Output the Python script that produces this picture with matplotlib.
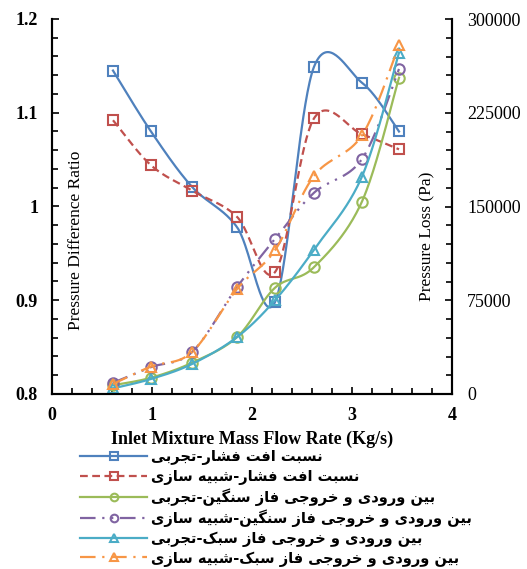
import numpy as np
import matplotlib
matplotlib.use("Agg")
import matplotlib.pyplot as plt
from matplotlib.ticker import MultipleLocator, FuncFormatter

# inlet mixture mass flow rate (kg/s)
flow = [0.61, 0.99, 1.40, 1.85, 2.23, 2.62, 3.10, 3.47]

# pressure difference ratio (left axis)
ratio_exp = [1.145, 1.080, 1.021, 0.978, 0.898, 1.149, 1.132, 1.080]
ratio_sim = [1.092, 1.044, 1.017, 0.989, 0.930, 1.094, 1.077, 1.061]

# pressure loss in Pa (right axis)
heavy_exp = [7000, 13000, 25000, 45500, 85000, 101500, 154000, 253000]
heavy_sim = [9000, 21500, 33500, 85500, 124000, 161000, 188000, 260000]
light_exp = [4500, 12000, 24000, 45500, 75000, 115500, 174000, 273000]
light_sim = [8000, 22000, 33500, 84000, 115000, 174500, 207000, 279000]

labels = [
    "نسبت افت فشار-تجربی",
    "نسبت افت فشار-شبیه سازی",
    "بین ورودی و خروجی فاز سنگین-تجربی",
    "بین ورودی و خروجی فاز سنگین-شبیه سازی",
    "بین ورودی و خروجی فاز سبک-تجربی",
    "بین ورودی و خروجی فاز سبک-شبیه سازی",
]

# contextual forms: isolated, final, initial, medial
FORMS = {
    "ا": ("\uFE8D", "\uFE8E", None, None),
    "د": ("\uFEA9", "\uFEAA", None, None),
    "ر": ("\uFEAD", "\uFEAE", None, None),
    "ز": ("\uFEAF", "\uFEB0", None, None),
    "و": ("\uFEED", "\uFEEE", None, None),
    "ب": ("\uFE8F", "\uFE90", "\uFE91", "\uFE92"),
    "ت": ("\uFE95", "\uFE96", "\uFE97", "\uFE98"),
    "ج": ("\uFE9D", "\uFE9E", "\uFE9F", "\uFEA0"),
    "خ": ("\uFEA5", "\uFEA6", "\uFEA7", "\uFEA8"),
    "س": ("\uFEB1", "\uFEB2", "\uFEB3", "\uFEB4"),
    "ش": ("\uFEB5", "\uFEB6", "\uFEB7", "\uFEB8"),
    "ف": ("\uFED1", "\uFED2", "\uFED3", "\uFED4"),
    "ن": ("\uFEE5", "\uFEE6", "\uFEE7", "\uFEE8"),
    "ه": ("\uFEE9", "\uFEEA", "\uFEEB", "\uFEEC"),
    "ی": ("\uFBFC", "\uFBFD", "\uFBFE", "\uFBFF"),
    "ک": ("\uFB8E", "\uFB8F", "\uFB90", "\uFB91"),
    "گ": ("\uFB92", "\uFB93", "\uFB94", "\uFB95"),
}


def shape_rtl(text):
    # pick joined letter forms, then reverse into visual order
    out = []
    for i, ch in enumerate(text):
        if ch not in FORMS:
            out.append(ch)
            continue
        prev = text[i - 1] if i > 0 else ""
        nxt = text[i + 1] if i + 1 < len(text) else ""
        iso, fin, ini, med = FORMS[ch]
        join_prev = prev in FORMS and FORMS[prev][2] is not None
        join_next = nxt in FORMS and ini is not None
        if join_prev and join_next:
            out.append(med)
        elif join_prev:
            out.append(fin)
        elif join_next:
            out.append(ini)
        else:
            out.append(iso)
    return "".join(reversed(out))


def smooth(x, y, n=40):
    # bezier smoothing through every point, like a spreadsheet "smoothed line"
    p = np.column_stack([x, y]).astype(float)
    ext = np.vstack([p[0], p, p[-1]])
    t = np.linspace(0, 1, n)[:, None]
    segs = []
    for i in range(len(p) - 1):
        p0, p3 = p[i], p[i + 1]
        p1 = p0 + (ext[i + 2] - ext[i]) / 6
        p2 = p3 - (ext[i + 3] - ext[i + 1]) / 6
        segs.append((1 - t) ** 3 * p0 + 3 * (1 - t) ** 2 * t * p1
                    + 3 * (1 - t) * t ** 2 * p2 + t ** 3 * p3)
    c = np.vstack(segs)
    return c[:, 0], c[:, 1]


serif = "Liberation Serif"
fig = plt.figure(figsize=(5.27, 5.69), dpi=100)
ax = fig.add_axes([52 / 527, 1 - 394 / 569, 400 / 527, 375 / 569])
ax2 = ax.twinx()

colors = ["#4F81BD", "#C0504D", "#9BBB59", "#8064A2", "#4BACC6", "#F79646"]
styles = ["-", (0, (3.5, 2)), "-", (0, (7, 3, 1, 3, 1, 3)), "-", (0, (7, 3, 1, 3))]
markers = ["s", "s", "o", "o", "^", "^"]
series = [(ax, ratio_exp), (ax, ratio_sim), (ax2, heavy_exp),
          (ax2, heavy_sim), (ax2, light_exp), (ax2, light_sim)]

handles = []
for (a, vals), c, ls, m, lab in zip(series, colors, styles, markers, labels):
    sx, sy = smooth(flow, vals)
    a.plot(sx, sy, color=c, ls=ls, lw=1.6)
    a.plot(flow, vals, ls="none", marker=m, ms=7.5, mfc="none", mec=c, mew=1.5)
    h, = plt.plot([], [], color=c, ls=ls, lw=1.6, marker=m, ms=5.5,
                  mfc="none", mec=c, mew=1.5)
    handles.append(h)

ax.set_xlim(0, 4)
ax.set_ylim(0.8, 1.2)
ax2.set_ylim(0, 300000)

ax.xaxis.set_major_locator(MultipleLocator(1))
ax.xaxis.set_minor_locator(MultipleLocator(0.2))
ax.yaxis.set_major_locator(MultipleLocator(0.1))
ax.yaxis.set_minor_locator(MultipleLocator(0.02))
ax.yaxis.set_major_formatter(FuncFormatter(lambda v, p: f"{v:g}"))
ax2.yaxis.set_major_locator(MultipleLocator(75000))
ax2.yaxis.set_minor_locator(MultipleLocator(15000))
ax2.yaxis.set_major_formatter(FuncFormatter(lambda v, p: f"{v:.0f}"))

for a in (ax, ax2):
    a.spines["top"].set_visible(False)
    for s in a.spines.values():
        s.set_linewidth(1.5)
    a.tick_params(which="both", direction="in", width=1.2)
    a.tick_params(which="major", length=5)
    a.tick_params(which="minor", length=4)

ax.tick_params(axis="y", pad=10)
ax.tick_params(axis="x", pad=9)
ax2.tick_params(axis="y", pad=11)
for t in ax.get_xticklabels() + ax.get_yticklabels():
    t.set_fontfamily(serif)
    t.set_fontweight("bold")
    t.set_fontsize(13)
for t in ax2.get_yticklabels():
    t.set_fontfamily(serif)
    t.set_fontsize(13)

ax.set_xlabel("Inlet Mixture Mass Flow Rate (Kg/s)", fontfamily=serif,
              fontweight="bold", fontsize=13, labelpad=5)
ax.text(0.06, 0.41, "Pressure Difference Ratio", transform=ax.transAxes,
        rotation=90, ha="center", va="center", fontfamily=serif, fontsize=12.5)
ax.text(0.9375, 0.42, "Pressure Loss (Pa)", transform=ax.transAxes,
        rotation=90, ha="center", va="center", fontfamily=serif, fontsize=12.5)

leg = fig.legend(handles, [shape_rtl(s) for s in labels], loc="upper left",
                 bbox_to_anchor=(80 / 527, 1 - 449 / 569), frameon=False,
                 borderpad=0, borderaxespad=0, handlelength=4.6,
                 handletextpad=0.3, labelspacing=0.25,
                 prop={"family": "DejaVu Sans", "weight": "bold", "size": 10.5})

fig.savefig("out.png", dpi=100)
